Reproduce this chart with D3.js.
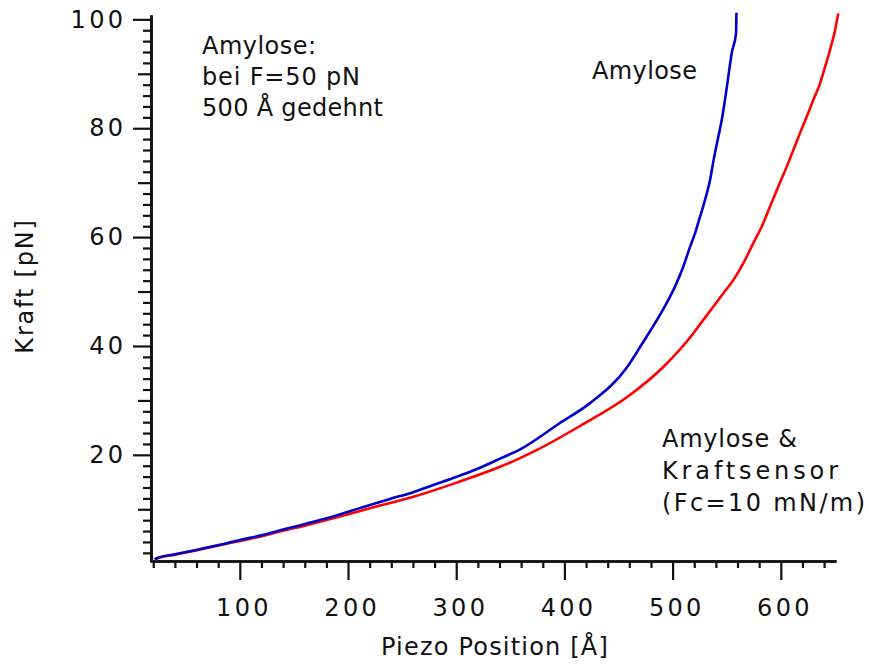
<!DOCTYPE html>
<html>
<head>
<meta charset="utf-8">
<script src="https://cdn.jsdelivr.net/npm/d3@7"></script>
<style>
  html, body { margin: 0; padding: 0; background: #fff; }
  svg { display: block; }
  text { font-family: "DejaVu Sans", Verdana, sans-serif; fill: #111; }
</style>
</head>
<body>
<svg id="chart" width="869" height="664"></svg>
<script>
// ---- data ----
const amyloseX = [21.5, 23.2, 40.1, 59.5, 79.6, 100.2, 121.2, 140.8, 160.3, 180.3, 200.3, 220.3, 238.8, 258.9, 278.8, 300.5, 320.4, 340.5, 359, 395.9, 423.7, 457.9, 469.9, 494.8, 502.2, 509.9, 516.1, 520.7, 525.3, 529.9, 534.6, 538.3, 542.2, 545.4, 548.4, 551.5, 554.6, 558.6, 559];
const amyloseY = [0.75, 1.0, 1.73, 2.52, 3.38, 4.36, 5.28, 6.32, 7.30, 8.34, 9.56, 10.8, 11.9, 13.05, 14.46, 15.98, 17.5, 19.3, 21.0, 25.85, 29.5, 36.1, 39.8, 48.0, 50.9, 54.6, 58.2, 60.7, 63.7, 66.8, 70.5, 74.6, 78.4, 81.5, 85.2, 89.5, 93.8, 97.4, 101.2];

const sensorX = [21.5, 23.2, 40.1, 59.5, 79.6, 100.2, 121.2, 140.8, 160.3, 180.3, 200.3, 220.3, 258.9, 300.5, 340.5, 359, 374.7, 414.4, 460.6, 491.1, 519.1, 528.4, 537.6, 546.9, 556.1, 565.4, 574.6, 582.3, 590, 597.7, 605.4, 611.6, 617.7, 623.9, 630, 636.2, 640.9, 645.5, 650.1, 653.1];
const sensorY = [0.75, 0.95, 1.65, 2.45, 3.3, 4.2, 5.1, 6.1, 7.0, 8.03, 9.1, 10.2, 12.2, 14.9, 17.8, 19.4, 20.9, 25.3, 31.0, 36.1, 42.3, 44.8, 47.2, 49.7, 52.1, 55.2, 58.9, 61.9, 65.6, 69.3, 72.9, 76.0, 79.1, 82.1, 85.2, 88.2, 91.3, 94.4, 98.0, 101.1];

const xMajorTicks = [100, 200, 300, 400, 500, 600];
const xMinorTicks = [20, 40, 60, 80, 120, 140, 160, 180, 220, 240, 260, 280, 320, 340, 360, 380, 420, 440, 460, 480, 520, 540, 560, 580, 620, 640];
const yMajorTicks = [20, 40, 60, 80, 100];
const yMediumTicks = [10, 30, 50, 70, 90];
const yMinorTicks = [2, 4, 6, 8, 12, 14, 16, 18, 22, 24, 26, 28, 32, 34, 36, 38, 42, 44, 46, 48, 52, 54, 56, 58, 62, 64, 66, 68, 72, 74, 76, 78, 82, 84, 86, 88, 92, 94, 96, 98];

const xTitle = "Piezo Position [Å]";
const yTitle = "Kraft [pN]";
const noteTopLeft = ["Amylose:", "bei F=50 pN", "500 Å gedehnt"];
const noteAmylose = ["Amylose"];
const noteSensor = ["Amylose &", "Kraftsensor", "(Fc=10 mN/m)"];

// ---- layout (pixel widths of text lines, matching the reference) ----
const wTopLeft = [114, 158, 181];
const wAmylose = [105];
const wSensor = [135, 176, 203];

const svg = d3.select("#chart");
const x = d3.scaleLinear().domain([17, 651]).range([150, 836]);
const y = d3.scaleLinear().domain([0.5, 100.8]).range([561, 15]);
const axisColor = "#111";
const tickLS = 3.3;

// x axis
const gx = svg.append("g").attr("transform", `translate(0,${y.range()[0]})`);
gx.call(d3.axisBottom(x).tickValues(xMinorTicks).tickSize(7).tickSizeOuter(0).tickFormat(""));
const gxMaj = svg.append("g").attr("transform", `translate(0,${y.range()[0]})`);
gxMaj.call(d3.axisBottom(x).tickValues(xMajorTicks).tickSize(19).tickSizeOuter(0).tickPadding(19).tickFormat(d3.format("d")));
gxMaj.selectAll(".tick text").attr("font-size", 24).attr("letter-spacing", tickLS + "px")
  .attr("dx", tickLS / 2 + 2).attr("font-family", "DejaVu Sans").attr("fill", "#111");

// y axis
const yAxisX = 151;
const gyMin = svg.append("g").attr("transform", `translate(${yAxisX},0)`);
gyMin.call(d3.axisLeft(y).tickValues(yMinorTicks).tickSize(8).tickSizeOuter(0).tickFormat(""));
const gyMed = svg.append("g").attr("transform", `translate(${yAxisX},0)`);
gyMed.call(d3.axisLeft(y).tickValues(yMediumTicks).tickSize(13).tickSizeOuter(0).tickFormat(""));
const gyMaj = svg.append("g").attr("transform", `translate(${yAxisX},0)`);
gyMaj.call(d3.axisLeft(y).tickValues(yMajorTicks).tickSize(18).tickSizeOuter(0).tickPadding(10).tickFormat(d3.format("d")));
gyMaj.selectAll(".tick text").attr("font-size", 24).attr("letter-spacing", tickLS + "px")
  .attr("dx", tickLS).attr("font-family", "DejaVu Sans").attr("fill", "#111");

svg.selectAll(".domain").attr("stroke-width", 2.4).attr("stroke", axisColor);
svg.selectAll(".tick line").attr("stroke-width", 2.2).attr("stroke", axisColor);

// axis titles
svg.append("text").attr("x", 495).attr("y", 655).attr("text-anchor", "middle")
  .attr("font-size", 24).attr("letter-spacing", "1.2px").text(xTitle);
svg.append("text").attr("transform", "translate(33,286) rotate(-90)").attr("text-anchor", "middle")
  .attr("font-size", 24).attr("letter-spacing", "1.8px").text(yTitle);

// curves
const lineGen = d3.line().x(d => x(d[0])).y(d => y(d[1])).curve(d3.curveMonotoneX);
const sensorData = sensorX.map((v, i) => [v, sensorY[i]]);
const amyloseData = amyloseX.map((v, i) => [v, amyloseY[i]]);
svg.append("path").datum(sensorData).attr("d", lineGen)
  .attr("fill", "none").attr("stroke", "#ff0000").attr("stroke-width", 2.6).attr("stroke-linejoin", "round");
svg.append("path").datum(amyloseData).attr("d", lineGen)
  .attr("fill", "none").attr("stroke", "#0000cc").attr("stroke-width", 2.6).attr("stroke-linejoin", "round");

// annotations
function block(lines, widths, x0, y0, dy) {
  const t = svg.append("text").attr("font-size", 24);
  lines.forEach((s, i) => t.append("tspan").attr("x", x0).attr("y", y0 + i * dy)
    .attr("textLength", widths[i]).attr("lengthAdjust", "spacing").text(s));
}
block(noteTopLeft, wTopLeft, 202, 54, 31);
block(noteAmylose, wAmylose, 592, 79, 31);
block(noteSensor, wSensor, 662, 447, 32);
</script>
</body>
</html>
